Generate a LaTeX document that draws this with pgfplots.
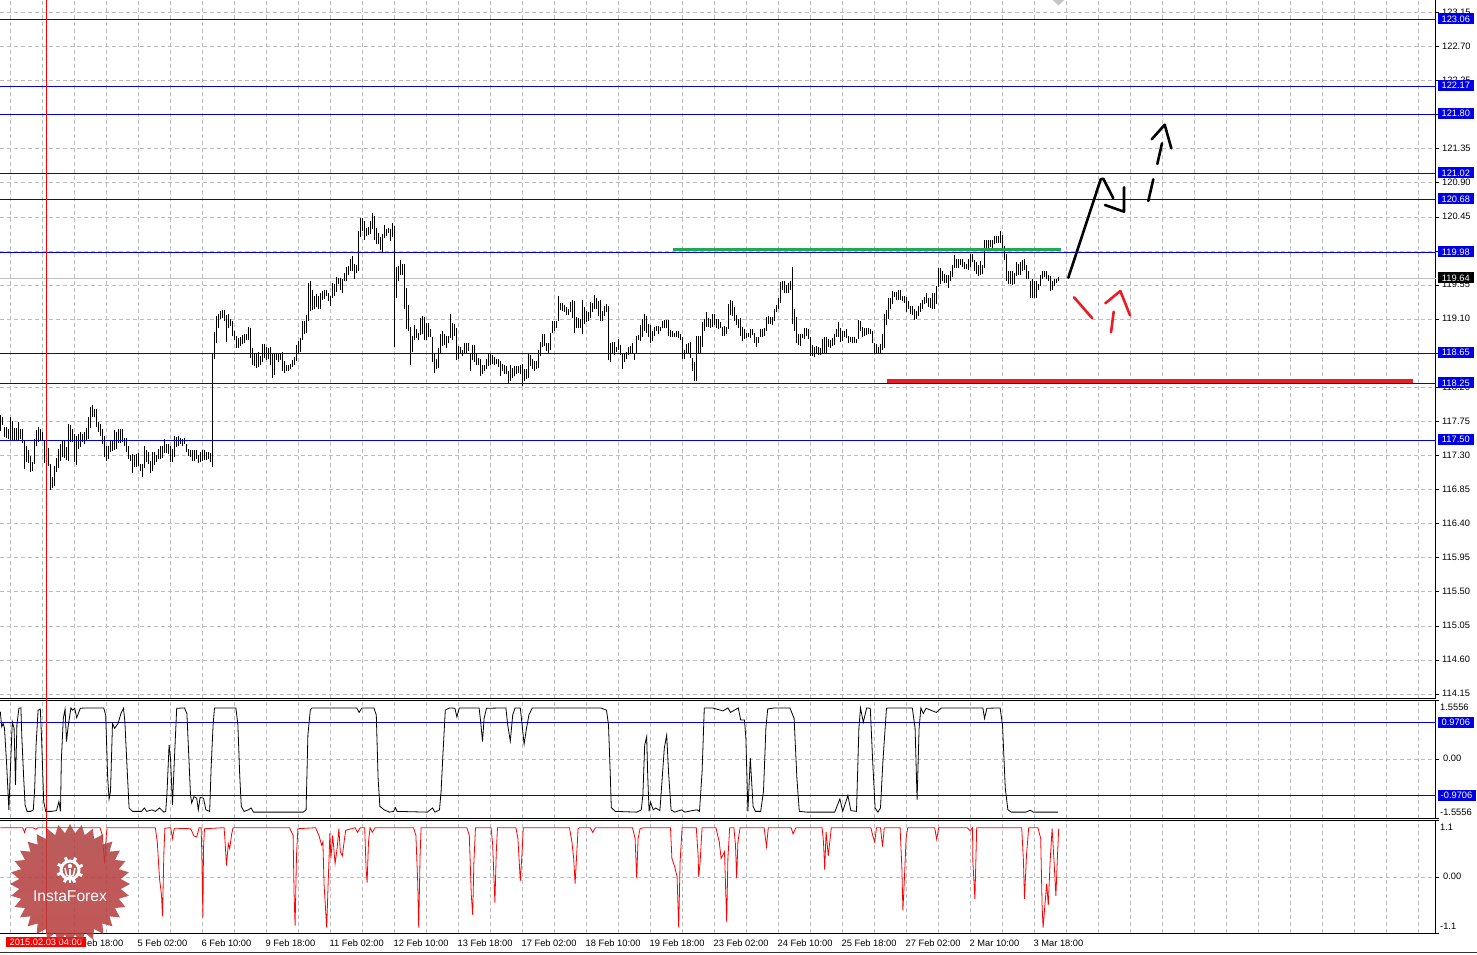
\documentclass[border=0pt]{standalone}
\usepackage{fontspec}
\setmainfont{Liberation Sans}
\usepackage{pgfplots}
\usepackage{pgfplotstable}
\pgfplotsset{compat=1.18}
\definecolor{cblue}{HTML}{0000E6}
\definecolor{cgrid}{HTML}{BEBEBE}
\definecolor{cred}{HTML}{FF0000}
\definecolor{mred}{HTML}{ED1C24}
\definecolor{mgreen}{HTML}{22A84F}
\definecolor{stA}{HTML}{B04040}
\definecolor{stB}{HTML}{FF4A4A}
\definecolor{stC}{HTML}{B83A3A}
\newcommand{\lab}{\fontsize{9.3}{11}\selectfont}
\pgfplotstableread{
i hi lo
0 117.84 117.63
1 117.81 117.70
2 117.68 117.55
3 117.68 117.53
4 117.65 117.52
5 117.81 117.51
6 117.76 117.51
7 117.67 117.50
8 117.67 117.50
9 117.74 117.51
10 117.65 117.52
11 117.65 117.47
12 117.49 117.12
13 117.43 117.21
14 117.37 117.20
15 117.29 117.08
16 117.21 117.10
17 117.52 117.19
18 117.64 117.43
19 117.68 117.48
20 117.65 117.50
21 117.61 117.49
22 117.49 117.20
23 117.29 117.14
24 117.40 117.16
25 117.19 116.85
26 117.02 116.87
27 117.16 116.90
28 117.27 117.08
29 117.39 117.14
30 117.45 117.23
31 117.51 117.28
32 117.49 117.27
33 117.41 117.24
34 117.72 117.23
35 117.70 117.48
36 117.65 117.48
37 117.59 117.21
38 117.56 117.17
39 117.59 117.39
40 117.61 117.41
41 117.59 117.48
42 117.61 117.45
43 117.67 117.50
44 117.81 117.52
45 117.94 117.67
46 117.97 117.81
47 117.92 117.81
48 117.92 117.68
49 117.74 117.61
50 117.71 117.56
51 117.65 117.45
52 117.56 117.28
53 117.43 117.23
54 117.42 117.26
55 117.49 117.34
56 117.49 117.36
57 117.64 117.37
58 117.61 117.39
59 117.65 117.46
60 117.65 117.46
61 117.65 117.48
62 117.53 117.43
63 117.53 117.34
64 117.43 117.26
65 117.31 117.23
66 117.32 117.07
67 117.31 117.15
68 117.32 117.15
69 117.33 117.16
70 117.19 117.09
71 117.19 117.01
72 117.43 117.14
73 117.37 117.21
74 117.34 117.19
75 117.23 117.07
76 117.34 117.10
77 117.34 117.17
78 117.31 117.22
79 117.39 117.26
80 117.42 117.26
81 117.42 117.27
82 117.52 117.33
83 117.45 117.33
84 117.45 117.32
85 117.43 117.21
86 117.39 117.21
87 117.56 117.28
88 117.54 117.41
89 117.56 117.43
90 117.53 117.45
91 117.52 117.43
92 117.53 117.45
93 117.45 117.34
94 117.39 117.30
95 117.37 117.28
96 117.37 117.23
97 117.37 117.23
98 117.37 117.26
99 117.31 117.20
100 117.34 117.21
101 117.37 117.23
102 117.37 117.24
103 117.34 117.24
104 117.34 117.26
105 117.33 117.22
106 118.65 117.15
107 118.93 118.57
108 119.14 118.79
109 119.17 118.98
110 119.21 119.10
111 119.22 119.11
112 119.22 119.08
113 119.16 118.80
114 119.17 118.99
115 119.10 119.01
116 119.08 118.88
117 118.94 118.83
118 118.88 118.72
119 118.85 118.72
120 118.86 118.75
121 118.89 118.77
122 118.90 118.78
123 118.91 118.83
124 119.00 118.83
125 118.99 118.59
126 118.72 118.50
127 118.66 118.48
128 118.64 118.45
129 118.67 118.47
130 118.61 118.50
131 118.77 118.54
132 118.77 118.59
133 118.73 118.56
134 118.72 118.57
135 118.73 118.50
136 118.64 118.33
137 118.65 118.36
138 118.65 118.56
139 118.66 118.53
140 118.66 118.56
141 118.67 118.42
142 118.55 118.39
143 118.50 118.42
144 118.50 118.42
145 118.51 118.44
146 118.56 118.47
147 118.60 118.50
148 118.76 118.55
149 118.81 118.66
150 118.85 118.67
151 119.07 118.83
152 119.08 118.91
153 119.16 118.92
154 119.58 119.08
155 119.61 119.21
156 119.48 119.22
157 119.41 119.24
158 119.43 119.26
159 119.41 119.23
160 119.45 119.23
161 119.47 119.36
162 119.48 119.37
163 119.49 119.41
164 119.45 119.34
165 119.41 119.27
166 119.58 119.38
167 119.56 119.41
168 119.66 119.46
169 119.65 119.56
170 119.65 119.49
171 119.63 119.45
172 119.71 119.60
173 119.79 119.60
174 119.80 119.68
175 119.89 119.74
176 119.93 119.73
177 119.83 119.63
178 119.82 119.71
179 120.27 119.73
180 120.43 120.18
181 120.43 120.26
182 120.40 120.15
183 120.31 120.20
184 120.32 120.21
185 120.40 120.22
186 120.50 120.29
187 120.46 120.15
188 120.31 120.09
189 120.24 120.09
190 120.18 120.01
191 120.22 119.98
192 120.34 120.17
193 120.29 120.20
194 120.31 120.24
195 120.29 120.13
196 120.37 120.18
197 120.33 118.73
198 119.79 119.38
199 119.80 119.60
200 119.88 119.68
201 119.83 119.68
202 119.83 119.23
203 119.51 118.97
204 119.29 118.94
205 119.00 118.50
206 118.88 118.67
207 119.02 118.82
208 118.97 118.85
209 118.92 118.83
210 119.12 118.89
211 119.14 118.90
212 119.13 118.83
213 119.05 118.82
214 119.05 118.86
215 118.97 118.86
216 118.86 118.53
217 118.65 118.39
218 118.57 118.44
219 118.72 118.46
220 118.91 118.65
221 118.95 118.75
222 118.91 118.76
223 118.88 118.72
224 118.88 118.78
225 119.17 118.85
226 119.05 118.83
227 119.04 118.88
228 118.99 118.56
229 118.75 118.57
230 118.73 118.64
231 118.70 118.61
232 118.79 118.64
233 118.79 118.66
234 118.79 118.68
235 118.65 118.42
236 118.76 118.56
237 118.76 118.53
238 118.66 118.49
239 118.59 118.50
240 118.57 118.35
241 118.50 118.37
242 118.50 118.42
243 118.57 118.44
244 118.64 118.48
245 118.64 118.50
246 118.63 118.51
247 118.60 118.50
248 118.58 118.51
249 118.57 118.47
250 118.55 118.35
251 118.51 118.42
252 118.50 118.38
253 118.48 118.38
254 118.42 118.24
255 118.50 118.29
256 118.46 118.33
257 118.48 118.35
258 118.48 118.37
259 118.48 118.39
260 118.50 118.37
261 118.51 118.22
262 118.44 118.28
263 118.44 118.31
264 118.64 118.33
265 118.63 118.48
266 118.57 118.44
267 118.55 118.42
268 118.55 118.44
269 118.69 118.46
270 118.80 118.61
271 118.90 118.73
272 118.90 118.75
273 118.79 118.68
274 118.79 118.66
275 118.92 118.70
276 119.08 118.92
277 119.08 118.94
278 119.08 118.99
279 119.41 119.08
280 119.32 119.22
281 119.32 119.21
282 119.29 119.20
283 119.26 119.16
284 119.24 119.16
285 119.33 119.20
286 119.35 119.12
287 119.34 118.92
288 119.13 118.99
289 119.12 118.99
290 119.10 118.99
291 119.35 118.91
292 119.26 119.04
293 119.21 119.06
294 119.20 119.08
295 119.33 119.12
296 119.32 119.20
297 119.42 119.24
298 119.38 119.24
299 119.34 119.14
300 119.35 119.08
301 119.21 119.08
302 119.28 119.14
303 119.30 119.19
304 119.28 118.56
305 118.79 118.54
306 118.80 118.64
307 118.80 118.63
308 118.73 118.67
309 118.84 118.69
310 118.76 118.63
311 118.65 118.44
312 118.65 118.53
313 118.67 118.57
314 118.73 118.63
315 118.75 118.64
316 118.79 118.64
317 118.66 118.56
318 118.88 118.66
319 118.89 118.82
320 119.02 118.81
321 119.10 118.87
322 119.17 118.94
323 119.14 118.92
324 119.04 118.86
325 119.02 118.79
326 118.94 118.81
327 119.00 118.88
328 119.01 118.94
329 119.01 118.90
330 119.00 118.94
331 119.07 118.98
332 119.09 118.99
333 119.09 118.99
334 119.09 118.88
335 118.96 118.87
336 118.94 118.86
337 118.92 118.86
338 118.94 118.87
339 118.94 118.85
340 118.91 118.82
341 118.86 118.58
342 118.70 118.58
343 118.77 118.65
344 118.79 118.64
345 118.80 118.59
346 118.59 118.41
347 118.53 118.29
348 118.88 118.29
349 118.88 118.65
350 118.88 118.64
351 119.06 118.73
352 119.10 118.94
353 119.19 119.00
354 119.12 119.00
355 119.10 118.99
356 119.17 119.00
357 119.17 119.03
358 119.10 118.99
359 119.10 118.97
360 119.06 118.98
361 119.00 118.88
362 119.01 118.88
363 119.00 118.91
364 119.30 118.97
365 119.35 119.16
366 119.34 119.14
367 119.26 119.07
368 119.16 119.03
369 119.10 118.99
370 119.12 118.88
371 119.00 118.81
372 118.97 118.84
373 118.92 118.85
374 118.92 118.86
375 118.97 118.85
376 118.97 118.89
377 118.92 118.79
378 118.86 118.73
379 118.87 118.78
380 118.97 118.86
381 118.97 118.87
382 118.98 118.88
383 119.13 118.94
384 119.14 119.04
385 119.13 119.04
386 119.13 119.03
387 119.24 119.08
388 119.29 119.19
389 119.38 119.23
390 119.59 119.31
391 119.60 119.49
392 119.60 119.44
393 119.55 119.44
394 119.58 119.45
395 119.60 119.48
396 119.79 119.04
397 119.23 118.95
398 119.13 118.79
399 118.91 118.76
400 118.90 118.75
401 118.90 118.85
402 118.98 118.84
403 118.98 118.88
404 118.97 118.84
405 118.87 118.62
406 118.76 118.62
407 118.73 118.60
408 118.75 118.65
409 118.73 118.63
410 118.72 118.63
411 118.84 118.64
412 118.87 118.65
413 118.87 118.66
414 118.84 118.73
415 118.82 118.72
416 118.85 118.75
417 118.91 118.76
418 118.97 118.87
419 119.06 118.87
420 118.98 118.80
421 118.94 118.81
422 118.95 118.86
423 118.97 118.85
424 118.88 118.79
425 118.86 118.80
426 118.87 118.79
427 118.86 118.78
428 118.84 118.79
429 119.09 118.84
430 119.08 118.94
431 119.00 118.87
432 118.98 118.88
433 118.98 118.89
434 118.98 118.90
435 118.97 118.90
436 118.95 118.78
437 118.79 118.65
438 118.77 118.65
439 118.73 118.65
440 118.77 118.66
441 118.91 118.70
442 119.17 118.72
443 119.22 119.03
444 119.38 119.10
445 119.38 119.23
446 119.47 119.30
447 119.46 119.39
448 119.46 119.36
449 119.48 119.36
450 119.49 119.36
451 119.41 119.34
452 119.41 119.32
453 119.39 119.19
454 119.34 119.24
455 119.28 119.17
456 119.28 119.16
457 119.23 119.09
458 119.21 119.10
459 119.28 119.14
460 119.32 119.20
461 119.36 119.23
462 119.39 119.30
463 119.44 119.32
464 119.38 119.26
465 119.38 119.25
466 119.44 119.24
467 119.45 119.23
468 119.54 119.30
469 119.78 119.52
470 119.78 119.56
471 119.73 119.60
472 119.70 119.58
473 119.69 119.58
474 119.69 119.51
475 119.74 119.60
476 119.82 119.66
477 119.95 119.78
478 119.89 119.78
479 119.89 119.78
480 119.90 119.82
481 119.89 119.79
482 119.85 119.76
483 119.83 119.76
484 119.89 119.75
485 119.96 119.79
486 119.96 119.85
487 119.88 119.74
488 119.85 119.70
489 119.81 119.67
490 119.87 119.69
491 119.81 119.70
492 120.14 119.78
493 120.15 120.02
494 120.15 120.04
495 120.15 120.05
496 120.15 120.04
497 120.20 120.09
498 120.20 120.10
499 120.20 120.11
500 120.26 120.10
501 120.21 120.04
502 120.07 119.88
503 119.96 119.60
504 119.74 119.57
505 119.74 119.56
506 119.74 119.55
507 119.71 119.56
508 119.85 119.67
509 119.83 119.69
510 119.85 119.69
511 119.88 119.74
512 119.89 119.75
513 119.81 119.63
514 119.74 119.63
515 119.61 119.38
516 119.63 119.38
517 119.60 119.38
518 119.60 119.38
519 119.56 119.48
520 119.69 119.54
521 119.74 119.63
522 119.74 119.66
523 119.74 119.63
524 119.69 119.60
525 119.67 119.47
526 119.60 119.48
527 119.63 119.54
528 119.63 119.58
529 119.66 119.60
}\bars
\begin{document}
\begin{tikzpicture}[x=1pt,y=1pt]
\fill[white] (0,0) rectangle (1477pt,-954pt);
\path[use as bounding box] (0,0) rectangle (1477pt,-954pt);
\pgfplotsset{
  chart/.style={
    scale only axis, width=1436pt, xmin=-0.15, xmax=717.85,
    axis x line*=bottom, axis y line*=right,
    axis line style={black,line width=1pt,-},
    grid=both,
    grid style={cgrid,line width=.8pt,dash pattern=on 4pt off 3pt},
    minor grid style={cgrid,line width=.8pt,dash pattern=on 4pt off 3pt},
    tick align=outside, major tick length=3pt, minor tick length=0pt,
    tick style={black,line width=.8pt},
    minor tick style={draw=none},
    xtick={5.1,21.1,...,710},
    xticklabels={},
    xtick style={draw=none},
    tick label style={font=\lab,black},
    yticklabel style={anchor=west,inner sep=0pt,xshift=3pt,yshift=.5pt},
  }
}
% ---- price panel
\begin{axis}[chart, at={(0pt,0pt)}, anchor=north west, height=698.3pt,
  ymin=114.094, ymax=123.315,
  ytick={114.15,114.60,115.05,115.50,115.95,116.40,116.85,117.30,117.75,118.20,118.65,119.10,119.55,120.00,120.45,120.90,121.35,121.80,122.25,122.70,123.15},
  yticklabels={114.15,114.60,115.05,115.50,115.95,116.40,116.85,117.30,117.75,118.20,118.65,119.10,119.55,120.00,120.45,120.90,121.35,121.80,122.25,122.70,123.15}]
\addplot[cgrid,line width=1pt,forget plot] coordinates {(-0.15,119.64) (717.85,119.64)};
\addplot[draw=none,mark=none,forget plot,
  error bars/.cd,y dir=plus,y explicit,error mark=none,
  error bar style={black,line width=1pt,solid}]
  table[x=i,y=lo,y error expr=\thisrow{hi}-\thisrow{lo}] {\bars};
\addplot[cblue,line width=1pt] coordinates {(-0.15,123.06) (717.85,123.06)};
\addplot[cblue,line width=1pt] coordinates {(-0.15,122.17) (717.85,122.17)};
\addplot[cblue,line width=1pt] coordinates {(-0.15,121.80) (717.85,121.80)};
\addplot[cblue,line width=1pt] coordinates {(-0.15,121.02) (717.85,121.02)};
\addplot[cblue,line width=1pt] coordinates {(-0.15,120.68) (717.85,120.68)};
\addplot[cblue,line width=1pt] coordinates {(-0.15,119.98) (717.85,119.98)};
\addplot[cblue,line width=1pt] coordinates {(-0.15,118.65) (717.85,118.65)};
\addplot[cblue,line width=1pt] coordinates {(-0.15,118.25) (717.85,118.25)};
\addplot[cblue,line width=1pt] coordinates {(-0.15,117.50) (717.85,117.50)};
\end{axis}
% ---- black oscillator panel
\begin{axis}[chart, at={(0pt,-700.5pt)}, anchor=north west, height=117.5pt,
  ymin=-1.5556, ymax=1.5556,
  ytick={-1.5556,0,1.5556}, yticklabels={,0.00,},
  yticklabel style={anchor=west,inner sep=0pt,xshift=1pt,yshift=.5pt}]
\addplot[cblue,line width=1pt] coordinates {(-0.15,0.9706) (717.85,0.9706)};
\addplot[cblue,line width=1pt] coordinates {(-0.15,-0.9706) (717.85,-0.9706)};
\addplot[black,line width=.8pt] coordinates {
(0,1.26)(.7,.86)(1.4,.95)(2.1,.82)(3.1,-.06)(4.3,-1.34)(5.2,-.06)(6,.99)(6.9,.82)(7.6,-.68)(8.3,.91)(9.3,1.35)(10.3,1.36)(10.8,.55)(11.7,-.5)(12.4,-1.21)(13.4,-1.38)(15.2,-1.38)(16.5,-1.34)(17.2,-.77)(17.9,.38)(18.9,1.3)(20,1.33)(20.7,.47)(21.7,-1.12)(22.7,-1.38)(25.5,-1.38)(28.1,-1.36)(29.3,-1.12)(30.1,-1.38)(30.5,-.06)(31.5,1.08)(32.4,1.33)(33.1,.47)(33.9,.86)(35.3,1.36)(36.2,1.3)(37.2,1.35)(38.2,1.1)(40,1.35)(43,1.36)(51.7,1.36)(52.7,1.17)(53.7,-.5)(54.4,-1.05)(55.1,-.85)(56.1,.95)(57.2,.82)(58.9,.95)(60.3,1.21)(61.6,1.35)(62.3,.99)(63.4,-.24)(64.4,-1.29)(66.1,-1.38)(70.6,-1.38)(72,-1.29)(73.2,-1.38)(75.8,-1.34)(77.5,-1.38)(79.6,-1.29)(81.8,-1.4)(82.7,-1.38)(83.3,-.94)(84.4,.38)(85.1,.03)(86.1,-1.21)(87,-.06)(88.2,1.35)(92.1,1.36)(93.3,1.21)(94,.38)(95.1,-.94)(95.7,-1.16)(96.8,-.99)(98.2,-1.03)(99,-1.34)(99.9,-1.01)(101.6,-1.03)(102.8,-1.34)(104.7,-1.38)(105.4,-.24)(106.4,.91)(107.1,1.36)(117.8,1.36)(118.8,.91)(119.7,-.41)(120.5,-1.25)(121.9,-1.38)(124,-1.34)(125.4,-1.29)(126.6,-1.4)(151.5,-1.4)(152.9,-1.34)(153.8,.64)(155,1.3)(155.8,1.36)(178.2,1.36)(179.4,1.24)(180.8,1.36)(186.8,1.36)(188,1.17)(188.9,-.5)(189.8,-1.25)(192,-1.34)(194.6,-1.4)(196.7,-1.38)(197.5,-1.28)(198.4,-1.38)(213.5,-1.4)(216.1,-1.29)(217.3,-1.4)(219.6,-1.34)(220.4,-.85)(221.3,.11)(222.5,1.3)(224.7,1.36)(227.3,1.35)(228.3,1.12)(229.5,1.36)(239.4,1.36)(240.2,.99)(241.1,.47)(241.9,1.08)(243.1,1.35)(252.8,1.36)(253.7,.91)(255,.48)(256.2,1.17)(257.4,1.36)(260,1.36)(260.9,.91)(261.9,.4)(263.1,.82)(264.3,1.17)(266,1.36)
(300.1,1.36)(303.1,1.3)(304.1,.91)(305,-.41)(305.5,-1.28)(307.5,-1.38)(318.2,-1.4)(320.5,-1.34)(321.3,-.94)(322.2,.38)(323.2,.6)(323.7,-.41)(324.4,-1.38)(325.1,-1.14)(326.5,-1.34)(327.7,-1.29)(329.8,-1.36)(330.6,-.77)(332,.29)(333.2,.64)(334.2,-.41)(335.4,-1.34)(337.2,-1.4)(340.6,-1.34)(342.3,-1.4)(345.8,-1.36)(348.4,-1.34)(349.6,-1.38)(350.9,-.33)(352,1.36)(356.1,1.36)(361.3,1.28)(363.8,1.36)(365.1,1.24)(369,1.36)(370.2,1.04)(372.1,1.04)(372.8,.55)(373.8,-1.38)(375,.03)(376.4,-1.25)(377.6,-1.38)(380.2,-1.38)(381.6,-.85)(382.8,.82)(383.7,1.33)(387.1,1.36)(394.8,1.36)(396.9,1.08)(398.3,-.5)(399.5,-1.38)(403.5,-1.4)(417.2,-1.4)(419.8,-1.05)(421.2,-1.38)(423.8,-.96)(425.3,-1.36)(428.1,-1.38)(429.3,.82)(430.1,1.36)(431.5,.98)(433.2,1.36)(435,1.35)(436.2,-.06)(437.4,-1.29)(438.8,-1.4)(440.1,-1.29)(441.3,-.06)(443.1,1.35)(444.3,1.36)(456,1.36)(457.4,.82)(458.4,-1.07)(459.4,.82)(460.3,1.36)(461.5,1.21)(462.9,1.35)(468,1.24)(470.6,1.36)(491.3,1.36)(492.1,1.08)(493.3,1.35)(499.9,1.36)(501.1,.91)(502.5,-.77)(503.8,-1.34)(505.6,-1.4)(512.8,-1.4)(514.9,-1.35)(516.6,-1.4)(528.8,-1.4)};
\end{axis}
% ---- red oscillator panel
\begin{axis}[chart, at={(0pt,-820.5pt)}, anchor=north west, height=112.8pt,
  ymin=-1.1, ymax=1.1,
  ytick={-1.1,0,1.1}, yticklabels={,0.00,},
  yticklabel style={anchor=west,inner sep=0pt,xshift=1pt,yshift=.5pt},
  xtick={5.1,37.1,...,518},
  xticklabels={,3 Feb 18:00,5 Feb 02:00,6 Feb 10:00,9 Feb 18:00,11 Feb 02:00,12 Feb 10:00,13 Feb 18:00,17 Feb 02:00,18 Feb 10:00,19 Feb 18:00,23 Feb 02:00,24 Feb 10:00,25 Feb 18:00,27 Feb 02:00,2 Mar 10:00,3 Mar 18:00},
  minor xtick={21.1,37.1,...,710},
  xtick style={black,line width=.8pt},
  xticklabel style={anchor=north west,inner sep=0pt,xshift=-1pt,yshift=-3pt}]
\addplot[cred,line width=.8pt] coordinates {
(0,.96)(11.2,.96)(12.1,.87)(12.9,.96)(16.4,.96)(17.7,.93)(18.9,.96)(49.9,.96)(51,.81)(52.2,.26)(53,.81)(53.4,.96)(77.5,.96)(78.5,.68)(79.6,-.03)(80.6,-.35)(81.1,-.77)(81.8,.49)(82.3,.95)(85.2,.96)(86.1,.75)(87,.95)(95.2,.94)(96.8,.8)(98.2,.78)(99.4,.96)(100.4,.96)(100.7,.55)(101.3,-.79)(101.6,.55)(102.1,.94)(111.9,.96)(112.4,.68)(113.1,.22)(114,.65)(114.7,.55)(115.7,.84)(116.4,.96)(144.6,.96)(146.4,.81)(146.9,-.35)(147.4,-.95)(148.1,.42)(148.8,.94)(157.6,.96)(159.3,.81)(160.7,.62)(161.3,.68)(161.9,-.16)(163.2,-.99)(163.9,-.16)(164.8,.85)(165.3,.36)(166.2,.81)(167.4,.26)(168.4,.55)(169.3,.94)(170,.49)(171,.41)(171.9,.68)(172.7,.91)(177.4,.96)(178.6,.87)(180,.96)(182.2,.96)(182.9,.16)(183.4,-.11)(184.1,.68)(184.9,.96)(186,.87)(187.4,.96)(206.6,.96)(207.8,.81)(208.7,-.09)(209.2,-.99)(209.9,.42)(210.4,.96)(233.3,.96)(234.5,.81)(235.5,-.35)(236.2,-.74)(236.8,.29)(237.6,.96)(245.4,.96)(246.2,.62)(247.3,-.5)(248,.49)(248.6,.96)(257.8,.96)(258.8,.75)(260,-.08)(260.8,.42)(261.5,.96)
(284.6,.96)(285.8,.68)(286.7,.36)(287.4,-.13)(288.1,.36)(288.9,.94)(289.5,.96)(295,.96)(296.2,.87)(297.6,.96)(316.1,.96)(317.4,.75)(318.2,-.03)(318.9,.75)(319.9,.94)(321.7,.96)(335.1,.96)(335.8,.36)(337.2,.2)(338.4,0)(339.2,-.99)(339.9,.29)(340.9,.96)(348,.96)(348.9,.42)(349.2,0)(349.9,.29)(350.9,.96)(357.8,.96)(359.5,.68)(360.4,.36)(362.1,.49)(363.2,-.88)(363.8,.36)(364.7,.96)(366.8,.96)(367.6,.62)(368.2,-.03)(368.8,.68)(369.9,.96)(381.9,.96)(383.1,.59)(384,.96)(395.4,.96)(396.4,.84)(397.8,.96)(410.9,.96)(411.6,.68)(412.2,.14)(412.9,.88)(414,.41)(415.5,.96)(435.3,.96)(436.2,.81)(437.2,.68)(438.1,.96)(440.1,.96)(441.1,.59)(442,.96)(449.9,.96)(450.8,.16)(451.3,-.65)(452,-.09)(452.9,.75)(453.7,.96)(467.2,.96)(468.2,.73)(469.2,.96)(483.5,.96)(484.9,.9)(486.1,.96)(486.3,.29)(487.3,-.43)(488.2,.96)(510.7,.96)(511.6,.29)(512.1,-.43)(513.1,.42)(514.2,.96)(518.8,.96)(520.2,.75)(520.9,-.55)(521.4,-.99)(522.3,-.55)(523.2,-.13)(524,-.55)(524.9,.29)(525.9,.94)(526.9,.29)(527.8,-.37)(528.6,.42)(529.2,.94)};
\end{axis}
% ---- panel frames
\draw[black,line width=1pt] (0,-700.5pt)--(1436pt,-700.5pt);
\draw[black,line width=1pt] (0,-820.5pt)--(1436pt,-820.5pt);
\draw[black!80,line width=1pt] (0,-952.7pt)--(1477pt,-952.7pt);
\draw[gray!45,fill=gray!45] (1053pt,0)--(1064pt,0)--(1058.5pt,-5pt)--cycle;
% ---- hand-drawn forecast strokes
\draw[mgreen,line width=3pt] (673pt,-249.7pt)--(1061pt,-249.7pt);
\draw[mred,line width=4pt] (887pt,-381pt)--(1413pt,-381pt);
\begin{scope}[line width=2.6pt,line cap=round,line join=round]
\draw[black] (1068.3pt,-277.7pt)--(1100.7pt,-179.3pt)--(1103.3pt,-178.7pt)--(1113.3pt,-198.3pt);
\draw[black] (1105pt,-205pt)--(1124pt,-211.7pt)--(1124pt,-187.3pt);
\draw[black] (1148.3pt,-201pt)--(1153.3pt,-179.3pt);
\draw[black] (1157.3pt,-164pt)--(1162pt,-143.3pt);
\draw[black] (1151.7pt,-139.3pt)--(1164.7pt,-124.7pt)--(1171.3pt,-148.3pt);
\draw[mred] (1074pt,-297.3pt)--(1092.3pt,-318.3pt);
\draw[mred] (1111pt,-332.3pt)--(1113.7pt,-311.7pt);
\draw[mred] (1105.3pt,-303.3pt)--(1120.3pt,-291pt)--(1130pt,-315.3pt);
\end{scope}
% ---- price boxes
\newcommand{\pbox}[3]{\node[fill=#1,text=white,inner sep=0pt,minimum width=36.5pt,minimum height=11pt,font=\lab] at (1455.8pt,-#2pt) {#3};}
\pbox{cblue}{18.8}{123.06}
\pbox{cblue}{85.5}{122.17}
\pbox{cblue}{113.5}{121.80}
\pbox{cblue}{172.8}{121.02}
\pbox{cblue}{198.8}{120.68}
\pbox{cblue}{251.8}{119.98}
\pbox{black}{277.8}{119.64}
\pbox{cblue}{352}{118.65}
\pbox{cblue}{382.8}{118.25}
\pbox{cblue}{439.5}{117.50}
\pbox{cblue}{722.7}{0.9706}
\node[fill=cblue,text=white,inner sep=0pt,minimum width=38pt,minimum height=11pt,font=\lab] at (1456.5pt,-795.5pt) {-0.9706};
\node[anchor=west,inner sep=0pt,font=\lab] at (1440pt,-707.3pt) {1.5556};
\node[anchor=west,inner sep=0pt,font=\lab] at (1440pt,-812pt) {-1.5556};
\node[anchor=west,inner sep=0pt,font=\lab] at (1440pt,-827.7pt) {1.1};
\node[anchor=west,inner sep=0pt,font=\lab] at (1440pt,-926.7pt) {-1.1};
% ---- time cursor and its label
\draw[cred,line width=.9pt] (46.3pt,0)--(46.3pt,-934pt);
\node[fill=cred,text=white,inner sep=0pt,minimum width=80.5pt,minimum height=10.8pt,font=\lab] at (45.8pt,-942pt) {2015.02.03 04:00};
% ---- InstaForex badge
\begin{scope}[shift={(70pt,-884pt)}]
\shade[opacity=.85,top color=stA,middle color=stB,bottom color=stC,shading angle=0]
  (0:60pt) \foreach \k in {0,...,31}{ -- (\k*11.25:60pt) -- (\k*11.25+5.625:51pt)} -- cycle;
\draw[white,line width=3pt] (0,14pt) circle (9pt);
\foreach \a in {20,65,110,155,200,245,290,335}{\draw[white,line width=3pt] (0,14pt) ++(\a:10pt) -- ++(\a:3.5pt);}
\fill[white] (0,18pt) circle (2.2pt);
\draw[white,line width=2pt] (0,15pt)--(0,1pt);
\draw[white,line width=1.5pt] (-5pt,16pt)--(-3.5pt,9pt)--(0,7pt)--(3.5pt,9pt)--(5pt,16pt);
\node[text=white,font=\fontsize{15.6}{18}\selectfont,inner sep=0pt] at (0,-12pt) {InstaForex};
\end{scope}
\end{tikzpicture}
\end{document}
